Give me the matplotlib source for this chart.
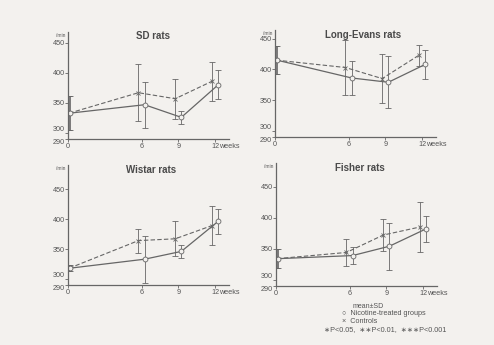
import numpy as np
import matplotlib
matplotlib.use('Agg')
import matplotlib.pyplot as plt
import matplotlib.transforms as mtransforms

plt.rcParams['font.family'] = ['Liberation Sans', 'DejaVu Sans']

# data (pulse rate, /min)
weeks = [0, 6, 9, 12]
strains = ['SD rats', 'Long-Evans rats', 'Wistar rats', 'Fisher rats']

ctrl_mean = {
    'SD rats': [333, 367, 357, 386],
    'Long-Evans rats': [415, 403, 385, 423],
    'Wistar rats': [318, 364, 367, 389],
    'Fisher rats': [334, 344, 372, 385],
}
ctrl_sd = {
    'SD rats': [28, 47, 33, 32],
    'Long-Evans rats': [23, 45, 40, 17],
    'Wistar rats': [5, 20, 29, 33],
    'Fisher rats': [15, 21, 26, 41],
}
nico_mean = {
    'SD rats': [333, 347, 326, 380],
    'Long-Evans rats': [415, 386, 379, 408],
    'Wistar rats': [318, 333, 346, 396],
    'Fisher rats': [334, 339, 354, 382],
}
nico_sd = {
    'SD rats': [28, 38, 11, 24],
    'Long-Evans rats': [23, 28, 42, 24],
    'Wistar rats': [5, 39, 11, 21],
    'Fisher rats': [15, 13, 38, 21],
}

# axes rectangles in pixels: left, axis-bottom, axis-top, y at top
W, H = 494, 345
panels = {
    'SD rats': dict(left=68, bottom=139, top=32, ytop=468, tx=0.53, ty=0.96),
    'Long-Evans rats': dict(left=275, bottom=137, top=30, ytop=464, tx=0.55, ty=0.95),
    'Wistar rats': dict(left=68, bottom=285, top=165, ytop=490, tx=0.515, ty=0.958),
    'Fisher rats': dict(left=276, bottom=286, top=163, ytop=488, tx=0.52, ty=0.957),
}
xmax = 13.1
width_px = 160.5
ink = '#666666'
txt = '#555555'

fig = plt.figure(figsize=(W / 100, H / 100), dpi=100)
fig.patch.set_facecolor('#f3f1ee')

for name in strains:
    p = panels[name]
    ax = fig.add_axes([p['left'] / W, 1 - p['bottom'] / H, width_px / W,
                       (p['bottom'] - p['top']) / H])
    ax.set_facecolor('none')
    ax.set_xlim(0, xmax)
    ax.set_ylim(290, p['ytop'])
    for s in ['top', 'right']:
        ax.spines[s].set_visible(False)
    for s in ['left', 'bottom']:
        ax.spines[s].set_color(ink)
        ax.spines[s].set_linewidth(0.9)

    xc = np.array(weeks) + np.array([0.1, -0.25, -0.25, -0.25])
    xn = np.array(weeks) + np.array([0.15, 0.25, 0.25, 0.25])
    ax.errorbar(xc, ctrl_mean[name], yerr=ctrl_sd[name], color=ink, lw=0.8,
                ls=(0, (4, 2)), marker='x', ms=2.2, mew=0.6, capsize=2,
                elinewidth=0.6, capthick=0.6)
    ax.errorbar(xn, nico_mean[name], yerr=nico_sd[name], color=ink, lw=0.9,
                ls='-', marker='o', ms=3.5, mfc='#f3f1ee', mew=0.6, capsize=2,
                elinewidth=0.6, capthick=0.6)

    ax.set_yticks([290, 300, 350, 400, 450])
    ax.set_yticklabels(['290', '300', '350', '400', '450'])
    ax.set_xticks(weeks)
    ax.set_xticklabels(['0', '6', '9', '12'])
    ax.tick_params(axis='both', colors=ink, labelcolor=txt, labelsize=5.2,
                   length=2, width=0.6, pad=1)
    ax.tick_params(axis='y', pad=0.5)
    for lab in ax.get_yticklabels():
        if lab.get_text() == '290':
            lab.set_va('top')
        elif lab.get_text() == '300':
            lab.set_va('bottom')

    tr = mtransforms.blended_transform_factory(ax.transData, ax.transAxes)
    ax.text(12.3, -0.035, 'weeks', transform=tr, fontsize=5.2, color=txt,
            ha='left', va='top')
    ax.text(-0.2, p['ytop'] - 5, '/min', fontsize=3.5, color=txt,
            ha='right', va='center')
    ax.text(p['tx'], p['ty'], name, transform=ax.transAxes, fontsize=7,
            fontweight='bold', color='#4a4a4a', ha='center', va='center')

fig.text(368 / W, 1 - 306.5 / H, 'mean\u00b1SD', fontsize=5, color=txt,
         ha='center', va='center')
fig.text(342 / W, 1 - 313.5 / H, '\u25cb  Nicotine-treated groups', fontsize=5.2,
         color=txt, ha='left', va='center')
fig.text(342 / W, 1 - 321.5 / H, '\u00d7  Controls', fontsize=5.2, color=txt,
         ha='left', va='center')
fig.text(324 / W, 1 - 329.5 / H,
         '\u2217P<0.05,  \u2217\u2217P<0.01,  \u2217\u2217\u2217P<0.001',
         fontsize=5.2, color=txt, ha='left', va='center')

fig.savefig('out.png', dpi=100, facecolor=fig.get_facecolor())
